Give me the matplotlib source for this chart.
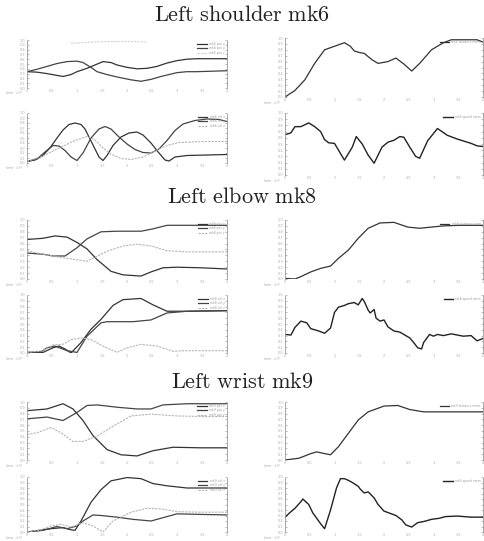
import matplotlib
matplotlib.use("Agg")
import matplotlib.pyplot as plt

plt.rcParams['mathtext.fontset'] = 'cm'

W, H = 485, 541

titles = ["Left shoulder mk6", "Left elbow mk8", "Left wrist mk9"]
markers = ["mk6", "mk8", "mk9"]

# ---- shoulder mk6 ----
sh_pos_x1 = [0, 5, 10, 18, 22, 25, 30, 34, 38, 42, 45, 50, 55, 60, 65, 70, 75, 80, 85, 100]
sh_pos_a = [0.34, 0.33, 0.30, 0.24, 0.28, 0.34, 0.41, 0.48, 0.55, 0.53, 0.48, 0.43, 0.40, 0.41, 0.45, 0.52, 0.57, 0.60, 0.61, 0.61]
sh_pos_x2 = [0, 5, 10, 15, 20, 25, 28, 32, 35, 40, 45, 52, 57, 62, 67, 72, 75, 80, 85, 100]
sh_pos_b = [0.34, 0.39, 0.45, 0.51, 0.55, 0.56, 0.53, 0.43, 0.34, 0.28, 0.23, 0.17, 0.14, 0.18, 0.24, 0.29, 0.32, 0.34, 0.34, 0.36]
sh_pos_x3 = [22, 30, 40, 50, 60]
sh_pos_c = [0.93, 0.95, 0.97, 0.97, 0.96]

sh_vel_x1 = [0, 4, 8, 12, 15, 18, 21, 24, 27, 29, 31, 34, 36, 38, 40, 43, 47, 51, 55, 58, 62, 66, 69, 71, 74, 80, 90, 100]
sh_vel_a = [0.03, 0.06, 0.15, 0.33, 0.50, 0.66, 0.77, 0.80, 0.77, 0.68, 0.52, 0.28, 0.12, 0.05, 0.15, 0.35, 0.52, 0.60, 0.62, 0.56, 0.40, 0.20, 0.06, 0.04, 0.12, 0.15, 0.16, 0.17]
sh_vel_x2 = [0, 5, 9, 13, 16, 19, 22, 25, 28, 32, 36, 39, 42, 46, 50, 54, 58, 62, 66, 70, 74, 78, 84, 90, 96, 100]
sh_vel_b = [0.03, 0.08, 0.22, 0.35, 0.34, 0.25, 0.12, 0.05, 0.20, 0.50, 0.68, 0.73, 0.68, 0.52, 0.38, 0.27, 0.21, 0.20, 0.28, 0.45, 0.65, 0.78, 0.85, 0.88, 0.87, 0.83]
sh_vel_x3 = [0, 8, 16, 24, 30, 34, 38, 42, 47, 52, 58, 64, 70, 76, 88, 100]
sh_vel_c = [0.03, 0.14, 0.30, 0.45, 0.53, 0.46, 0.30, 0.18, 0.09, 0.07, 0.12, 0.24, 0.35, 0.41, 0.43, 0.43]

sh_norm_x = [0, 5, 10, 15, 20, 25, 30, 33, 35, 38, 40, 44, 47, 52, 56, 60, 64, 68, 74, 80, 84, 97, 100]
sh_norm = [0.0, 0.11, 0.29, 0.57, 0.80, 0.86, 0.92, 0.86, 0.78, 0.75, 0.74, 0.63, 0.57, 0.60, 0.66, 0.56, 0.44, 0.57, 0.80, 0.92, 0.97, 0.97, 0.93]
sh_speed_x = [0, 3, 5, 8, 12, 15, 18, 20, 22, 25, 30, 34, 36, 39, 42, 45, 49, 52, 55, 58, 60, 63, 66, 68, 72, 77, 82, 87, 94, 97, 100]
sh_speed = [0.65, 0.68, 0.78, 0.78, 0.84, 0.78, 0.70, 0.57, 0.52, 0.51, 0.24, 0.45, 0.62, 0.50, 0.32, 0.19, 0.45, 0.53, 0.56, 0.62, 0.61, 0.45, 0.30, 0.27, 0.55, 0.75, 0.64, 0.58, 0.51, 0.47, 0.46]

# ---- elbow mk8 ----
el_pos_x1 = [0, 8, 14, 20, 25, 30, 35, 42, 48, 57, 62, 68, 75, 87, 100]
el_pos_a = [0.67, 0.69, 0.73, 0.71, 0.62, 0.51, 0.33, 0.13, 0.07, 0.05, 0.12, 0.19, 0.20, 0.19, 0.17]
el_pos_x2 = [0, 8, 13, 19, 25, 30, 37, 45, 57, 63, 70, 87, 100]
el_pos_b = [0.44, 0.42, 0.39, 0.39, 0.53, 0.68, 0.80, 0.81, 0.81, 0.85, 0.91, 0.91, 0.91]
el_pos_x3 = [0, 8, 18, 30, 40, 48, 55, 62, 70, 80, 100]
el_pos_c = [0.48, 0.42, 0.36, 0.30, 0.47, 0.56, 0.59, 0.56, 0.48, 0.46, 0.46]

el_vel_x1 = [0, 8, 13, 16, 19, 22, 27, 32, 37, 43, 48, 57, 63, 70, 80, 100]
el_vel_a = [0.01, 0.01, 0.09, 0.12, 0.07, 0.0, 0.18, 0.41, 0.58, 0.82, 0.92, 0.94, 0.83, 0.72, 0.72, 0.73]
el_vel_x2 = [0, 7, 10, 14, 20, 25, 30, 37, 40, 53, 62, 70, 80, 100]
el_vel_a2 = [0.01, 0.02, 0.09, 0.12, 0.04, 0.01, 0.29, 0.52, 0.54, 0.54, 0.57, 0.69, 0.72, 0.73]
el_vel_x3 = [0, 8, 13, 18, 22, 27, 32, 38, 45, 50, 57, 65, 73, 80, 100]
el_vel_c = [0.01, 0.04, 0.14, 0.15, 0.23, 0.26, 0.23, 0.12, 0.01, 0.09, 0.15, 0.12, 0.03, 0.04, 0.04]

el_norm_x = [0, 5, 8, 13, 18, 23, 27, 32, 37, 42, 48, 55, 62, 68, 80, 88, 100]
el_norm = [0.01, 0.0, 0.04, 0.12, 0.18, 0.22, 0.35, 0.49, 0.69, 0.86, 0.95, 0.96, 0.88, 0.86, 0.90, 0.91, 0.91]
el_speed_x = [0, 3, 5, 8, 11, 13, 17, 20, 23, 25, 27, 30, 32, 35, 37, 39, 40, 42, 43, 45, 46, 48, 50, 52, 55, 58, 61, 63, 65, 67, 69, 70, 73, 75, 77, 80, 84, 87, 90, 94, 97, 100]
el_speed = [0.32, 0.31, 0.44, 0.55, 0.52, 0.42, 0.38, 0.34, 0.43, 0.70, 0.79, 0.82, 0.85, 0.87, 0.83, 0.94, 0.89, 0.74, 0.69, 0.75, 0.60, 0.55, 0.57, 0.45, 0.38, 0.36, 0.30, 0.26, 0.18, 0.09, 0.07, 0.18, 0.32, 0.29, 0.32, 0.30, 0.33, 0.31, 0.29, 0.30, 0.21, 0.25]

# ---- wrist mk9 ----
wr_pos_x1 = [0, 10, 18, 23, 28, 33, 40, 47, 55, 63, 73, 87, 100]
wr_pos_a = [0.85, 0.88, 0.97, 0.88, 0.68, 0.42, 0.18, 0.09, 0.07, 0.16, 0.22, 0.21, 0.21]
wr_pos_x2 = [0, 10, 18, 25, 30, 35, 45, 55, 62, 68, 80, 100]
wr_pos_b = [0.71, 0.74, 0.68, 0.82, 0.94, 0.95, 0.91, 0.88, 0.88, 0.95, 0.97, 0.97]
wr_pos_x3 = [0, 5, 12, 17, 23, 28, 35, 42, 52, 62, 75, 87, 100]
wr_pos_c = [0.44, 0.47, 0.56, 0.47, 0.32, 0.32, 0.41, 0.56, 0.76, 0.79, 0.76, 0.75, 0.75]

wr_vel_x1 = [0, 12, 18, 22, 24, 27, 32, 37, 42, 50, 57, 63, 70, 80, 100]
wr_vel_a = [0.0, 0.06, 0.08, 0.04, 0.03, 0.20, 0.54, 0.77, 0.93, 0.99, 0.97, 0.88, 0.84, 0.80, 0.80]
wr_vel_x2 = [0, 8, 15, 20, 25, 28, 33, 37, 45, 53, 62, 68, 75, 87, 100]
wr_vel_b = [0.0, 0.03, 0.10, 0.06, 0.11, 0.20, 0.31, 0.30, 0.27, 0.23, 0.20, 0.26, 0.33, 0.32, 0.31]
wr_vel_x3 = [0, 7, 12, 17, 22, 28, 33, 38, 43, 52, 60, 67, 75, 87, 100]
wr_vel_c = [0.0, 0.04, 0.11, 0.14, 0.09, 0.17, 0.11, 0.0, 0.20, 0.36, 0.43, 0.42, 0.37, 0.36, 0.36]

wr_norm_x = [0, 7, 13, 16, 20, 23, 27, 32, 37, 42, 50, 57, 63, 70, 80, 100]
wr_norm = [0.0, 0.03, 0.11, 0.14, 0.11, 0.09, 0.23, 0.46, 0.69, 0.83, 0.93, 0.94, 0.87, 0.83, 0.83, 0.83]
wr_speed_x = [0, 3, 5, 8, 9, 12, 14, 16, 18, 20, 23, 26, 28, 30, 32, 34, 37, 38, 40, 42, 45, 47, 50, 53, 56, 59, 61, 64, 67, 70, 74, 78, 81, 87, 94, 100]
wr_speed = [0.27, 0.37, 0.43, 0.55, 0.60, 0.50, 0.35, 0.25, 0.15, 0.06, 0.40, 0.80, 0.97, 0.97, 0.94, 0.90, 0.83, 0.78, 0.71, 0.73, 0.62, 0.50, 0.38, 0.34, 0.30, 0.22, 0.13, 0.09, 0.17, 0.19, 0.23, 0.25, 0.28, 0.29, 0.27, 0.27]

pos_series = [
    [(sh_pos_x1, sh_pos_a), (sh_pos_x2, sh_pos_b), (sh_pos_x3, sh_pos_c)],
    [(el_pos_x1, el_pos_a), (el_pos_x2, el_pos_b), (el_pos_x3, el_pos_c)],
    [(wr_pos_x1, wr_pos_a), (wr_pos_x2, wr_pos_b), (wr_pos_x3, wr_pos_c)],
]
vel_series = [
    [(sh_vel_x1, sh_vel_a), (sh_vel_x2, sh_vel_b), (sh_vel_x3, sh_vel_c)],
    [(el_vel_x1, el_vel_a), (el_vel_x2, el_vel_a2), (el_vel_x3, el_vel_c)],
    [(wr_vel_x1, wr_vel_a), (wr_vel_x2, wr_vel_b), (wr_vel_x3, wr_vel_c)],
]
norm_series = [(sh_norm_x, sh_norm), (el_norm_x, el_norm), (wr_norm_x, wr_norm)]
speed_series = [(sh_speed_x, sh_speed), (el_speed_x, el_speed), (wr_speed_x, wr_speed)]

xtick_vals = [0, 12.5, 25, 37.5, 50, 62.5, 75, 87.5, 100]
xtick_labels = ["0", "0.5", "1", "1.5", "2", "2.5", "3", "3.5", "4"]

# axes boxes in pixels: left, top, right, bottom
boxes = [
    [(27, 40, 227, 88), (27, 113, 227, 163), (285, 38, 483, 97), (285, 113, 483, 175)],
    [(27, 220, 227, 279), (27, 295, 227, 353), (285, 220, 483, 279), (285, 295, 483, 353)],
    [(27, 402, 227, 460), (27, 477, 227, 532), (285, 402, 483, 460), (285, 477, 483, 532)],
]
title_y = [15, 197, 382]

fig = plt.figure(figsize=(W / 100, H / 100), dpi=100)


def make_ax(box):
    l, t, r, b = box
    ax = fig.add_axes([l / W, 1 - b / H, (r - l) / W, (b - t) / H])
    for side in ['top', 'bottom']:
        ax.spines[side].set_visible(False)
    for side in ['left', 'right']:
        ax.spines[side].set_color('#999999')
        ax.spines[side].set_linewidth(0.6)
        ax.spines[side].set_linestyle((0, (1, 1)))
    ax.set_xlim(0, 100)
    ax.set_ylim(0, 1)
    ax.set_xticks(xtick_vals)
    ax.set_xticklabels(xtick_labels)
    ax.set_yticks([i / 10 for i in range(11)])
    ax.set_yticklabels(["%.1f" % (i / 10) for i in range(11)])
    ax.tick_params(axis='y', which='both', left=True, right=True, direction='in',
                   length=1.5, width=0.4, color='#888888', labelsize=2.5, labelcolor='#aaaaaa', pad=1)
    ax.tick_params(axis='x', length=0, labelsize=2.5, labelcolor='#aaaaaa', pad=0.5)
    ax.text(-0.02, -0.04, r"time $\times10^{3}$", transform=ax.transAxes,
            fontsize=2.5, color='#aaaaaa', ha='right', va='top')
    return ax


styles = [('#333333', '-', 0.9), ('#444444', '-', 0.9), ('#b5b5b5', (0, (2, 1)), 0.8)]

for g in range(3):
    fig.text(0.5, 1 - title_y[g] / H, r"$\mathrm{" + titles[g].replace(" ", r"\ ") + "}$",
             ha='center', va='center', fontsize=16, color='#222222')
    mk = markers[g]

    ax = make_ax(boxes[g][0])
    for i, ((xs, ys), (c, ls, lw), lab) in enumerate(zip(pos_series[g], styles, ["x", "y", "z"])):
        if g == 0 and i == 2:
            c = '#d2d2d2'
        ax.plot(xs, ys, color=c, linestyle=ls, linewidth=lw, label=mk + " pos " + lab)
    ax.legend(loc='upper right', fontsize=2.2, frameon=False, handlelength=3,
              labelspacing=0.1, borderpad=0.2, labelcolor='#999999')

    ax = make_ax(boxes[g][1])
    for (xs, ys), (c, ls, lw), lab in zip(vel_series[g], styles, ["x", "y", "z"]):
        ax.plot(xs, ys, color=c, linestyle=ls, linewidth=lw, label=mk + " vel " + lab)
    ax.legend(loc='upper right', fontsize=2.2, frameon=False, handlelength=3,
              labelspacing=0.1, borderpad=0.2, labelcolor='#999999')

    ax = make_ax(boxes[g][2])
    xs, ys = norm_series[g]
    ax.plot(xs, ys, color='#333333', linewidth=0.9, label=mk + " distance norm")
    ax.legend(loc='upper right', fontsize=2.2, frameon=False, handlelength=3,
              borderpad=0.2, labelcolor='#999999')

    ax = make_ax(boxes[g][3])
    xs, ys = speed_series[g]
    ax.plot(xs, ys, color='#222222', linewidth=1.0, label=mk + " speed norm")
    ax.legend(loc='upper right', fontsize=2.2, frameon=False, handlelength=3,
              borderpad=0.2, labelcolor='#999999')

fig.savefig("out.png", dpi=100)
